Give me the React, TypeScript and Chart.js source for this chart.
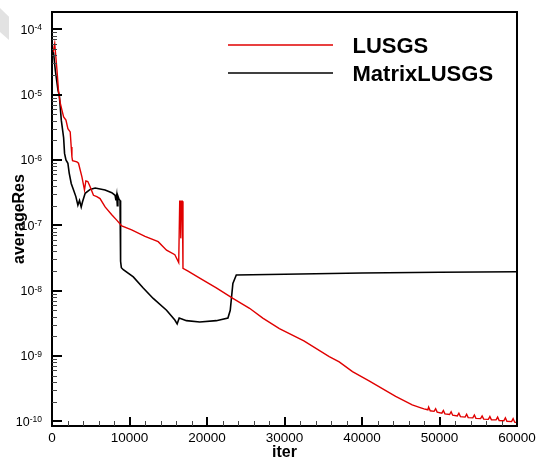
import React, { useEffect, useRef } from 'react';
import { Chart, registerables } from 'chart.js';

Chart.register(...registerables);

// ---------- data ----------
const lusgsIter = [
  150, 350, 640, 850, 1070, 1290, 1500, 1800, 2050, 2350, 2480, 2570, 2650, 3210, 3420, 3860,
  4190, 4370, 4620, 4920, 5350, 5780, 6200, 6850, 7710, 8350, 9000, 10280, 12000, 13700, 14780,
  15850, 16350, 16480, 16560, 16620, 16700, 16820, 16900, 17500, 19060, 21200, 23340, 25490,
  27200, 29340, 32500, 35770, 37060, 38770, 40910, 44340, 46480, 47500, 48000,
  48500, 48600, 48800, 49300, 49500, 49700, 50300, 50500, 50700, 51300, 51500, 51700,
  52300, 52500, 52700, 53300, 53500, 53700, 54300, 54500, 54700, 55300, 55500, 55700,
  56300, 56500, 56700, 57300, 57500, 57700, 58300, 58500, 58700, 59300, 59500, 59700, 60000,
];
const lusgsRes = [
  4.47e-5, 6.03e-5, 2.4e-5, 1.1e-5, 7.41e-6, 5.75e-6, 4.57e-6, 4.07e-6, 3.02e-6, 2.69e-6, 1.58e-6,
  1.12e-6, 9.77e-7, 9.33e-7, 8.91e-7, 5.5e-7, 3.47e-7, 4.79e-7, 4.68e-7, 3.89e-7, 2.88e-7, 2.75e-7,
  2.57e-7, 1.91e-7, 1.45e-7, 1.2e-7, 9.77e-8, 8.51e-8, 6.76e-8, 5.62e-8, 4.17e-8, 3.55e-8, 2.69e-8,
  2.34e-7, 2.34e-7, 6.31e-8, 2.34e-7, 2.34e-7, 2.19e-8, 2.0e-8, 1.55e-8, 1.1e-8, 7.59e-9, 5.37e-9,
  3.8e-9, 2.63e-9, 1.7e-9, 9.77e-10, 8.13e-10, 5.75e-10, 4.17e-10, 2.4e-10, 1.78e-10, 1.62e-10, 1.55e-10,
  1.5e-10, 1.65e-10, 1.45e-10, 1.42e-10, 1.56e-10, 1.38e-10, 1.33e-10, 1.46e-10, 1.3e-10,
  1.27e-10, 1.4e-10, 1.24e-10, 1.21e-10, 1.33e-10, 1.18e-10, 1.16e-10, 1.28e-10, 1.14e-10,
  1.13e-10, 1.25e-10, 1.11e-10, 1.1e-10, 1.21e-10, 1.08e-10, 1.07e-10, 1.18e-10, 1.05e-10,
  1.05e-10, 1.16e-10, 1.03e-10, 1.02e-10, 1.13e-10, 1.0e-10, 0.99e-10, 1.1e-10, 0.97e-10, 0.96e-10,
];

const matrixIter = [
  80, 210, 420, 770, 940, 1200, 1500, 1620, 1800, 2050, 2220, 2480, 2780, 3080, 3340, 3550, 3770,
  3940, 4280, 4920, 5570, 6850, 7710, 8140, 8250, 8350, 8430, 8500, 8650, 8780, 8850, 8950, 9200,
  10490, 11770, 13060, 14780, 15850, 16150, 16410, 17350, 19060, 21200, 22700, 23000, 23340,
  23780, 30000, 40000, 50000, 60000,
];
const matrixRes = [
  5.01e-5, 4.27e-5, 2.4e-5, 1.17e-5, 9.77e-6, 4.07e-6, 2.19e-6, 1.26e-6, 1.0e-6, 8.91e-7, 6.31e-7,
  4.37e-7, 3.47e-7, 2.75e-7, 2.04e-7, 2.4e-7, 1.91e-7, 2.29e-7, 3.09e-7, 3.55e-7, 3.72e-7, 3.47e-7,
  3.16e-7, 2.88e-7, 2.4e-7, 2.88e-7, 2.0e-7, 2.82e-7, 2.51e-7, 2.4e-7, 2.82e-8, 2.24e-8, 2.09e-8,
  1.62e-8, 1.1e-8, 7.59e-9, 5.01e-9, 3.55e-9, 3.09e-9, 3.8e-9, 3.47e-9, 3.31e-9, 3.47e-9, 3.8e-9,
  5.01e-9, 1.29e-8, 1.74e-8, 1.78e-8, 1.86e-8, 1.91e-8, 1.95e-8,
];

const seriesNames = ['LUSGS', 'MatrixLUSGS'];
const seriesColors = ['#e00000', '#000000'];
const xTickValues = [0, 10000, 20000, 30000, 40000, 50000, 60000];
const xTickLabels = ['0', '10000', '20000', '30000', '40000', '50000', '60000'];
const yTickExponents = [-10, -9, -8, -7, -6, -5, -4];
const yTickExpLabels = ['-10', '-9', '-8', '-7', '-6', '-5', '-4'];
const xTitle = 'iter';
const yTitle = 'averageRes';

const FONT = '"Liberation Sans", Arial, Helvetica, sans-serif';

const framePlugin = {
  id: 'tecFrame',
  afterDatasetsDraw(chart: any) {
    const { ctx, chartArea: a, scales } = chart;
    const xs = scales.x;
    const ys = scales.y;
    ctx.save();

    // frame
    ctx.strokeStyle = '#000';
    ctx.lineWidth = 2;
    ctx.strokeRect(a.left, a.top, a.right - a.left, a.bottom - a.top);

    // x minor ticks
    ctx.lineWidth = 1;
    ctx.strokeStyle = '#444';
    for (let v = 2000; v < 60000; v += 2000) {
      if (v % 10000 === 0) continue;
      const px = Math.round(xs.getPixelForValue(v)) + 0.5;
      ctx.beginPath();
      ctx.moveTo(px, a.bottom);
      ctx.lineTo(px, a.bottom - 5);
      ctx.stroke();
    }
    // y minor ticks
    for (let e = -10; e < -3; e++) {
      for (let m = 2; m <= 9; m++) {
        const v = m * Math.pow(10, e);
        if (v > ys.max) continue;
        const py = Math.round(ys.getPixelForValue(v)) + 0.5;
        ctx.beginPath();
        ctx.moveTo(a.left, py);
        ctx.lineTo(a.left + 5, py);
        ctx.stroke();
      }
    }
    // major ticks
    ctx.lineWidth = 2;
    ctx.strokeStyle = '#000';
    xTickValues.forEach((v) => {
      const px = Math.round(xs.getPixelForValue(v));
      ctx.beginPath();
      ctx.moveTo(px, a.bottom);
      ctx.lineTo(px, a.bottom - 9);
      ctx.stroke();
    });
    yTickExponents.forEach((e) => {
      const py = Math.round(ys.getPixelForValue(Math.pow(10, e)));
      ctx.beginPath();
      ctx.moveTo(a.left, py);
      ctx.lineTo(a.left + 10, py);
      ctx.stroke();
    });

    // x tick labels
    ctx.fillStyle = '#000';
    ctx.font = `13.5px ${FONT}`;
    ctx.textAlign = 'center';
    ctx.textBaseline = 'alphabetic';
    xTickValues.forEach((v, i) => {
      ctx.fillText(xTickLabels[i], xs.getPixelForValue(v), a.bottom + 15.5);
    });

    // y tick labels 10^e
    const right = a.left - 10;
    yTickExponents.forEach((e, i) => {
      const py = ys.getPixelForValue(Math.pow(10, e));
      ctx.font = `8.5px ${FONT}`;
      const supW = ctx.measureText(yTickExpLabels[i]).width;
      ctx.textAlign = 'left';
      ctx.fillText(yTickExpLabels[i], right - supW, py + 1);
      ctx.font = `12.5px ${FONT}`;
      ctx.textAlign = 'right';
      ctx.fillText('10', right - supW, py + 4.5);
    });

    // axis titles
    ctx.font = `bold 16px ${FONT}`;
    ctx.textAlign = 'center';
    ctx.fillText(xTitle, (a.left + a.right) / 2, 456.5);
    ctx.save();
    ctx.translate(24, (a.top + a.bottom) / 2);
    ctx.rotate(-Math.PI / 2);
    ctx.fillText(yTitle, 0, 0);
    ctx.restore();

    // legend
    const legendRows = [45, 73];
    chart.data.datasets.forEach((ds: any, i: number) => {
      const y = legendRows[i];
      ctx.strokeStyle = ds.borderColor;
      ctx.lineWidth = 1.5;
      ctx.beginPath();
      ctx.moveTo(228, y);
      ctx.lineTo(333, y);
      ctx.stroke();
      ctx.fillStyle = '#000';
      ctx.font = `bold 22px ${FONT}`;
      ctx.textAlign = 'left';
      ctx.fillText(ds.label, 352.5, y + 7.8);
    });

    ctx.restore();
  },
};

export default function App() {
  const ref = useRef<HTMLCanvasElement | null>(null);

  useEffect(() => {
    if (!ref.current) return;
    const chart = new Chart(ref.current, {
      type: 'line',
      data: {
        datasets: [
          {
            label: seriesNames[0],
            data: lusgsIter.map((x, i) => ({ x, y: lusgsRes[i] })),
            borderColor: seriesColors[0],
            borderWidth: 1.4,
            pointRadius: 0,
            tension: 0,
            fill: false,
          },
          {
            label: seriesNames[1],
            data: matrixIter.map((x, i) => ({ x, y: matrixRes[i] })),
            borderColor: seriesColors[1],
            borderWidth: 1.6,
            pointRadius: 0,
            tension: 0,
            fill: false,
          },
        ],
      },
      options: {
        animation: false,
        responsive: false,
        devicePixelRatio: 1,
        layout: { padding: { top: 12, right: 22, left: 0, bottom: 0 } },
        plugins: { legend: { display: false }, tooltip: { enabled: false } },
        scales: {
          x: {
            type: 'linear',
            min: 0,
            max: 60000,
            grid: { display: false },
            border: { display: false },
            ticks: { display: false },
            afterFit: (s: any) => {
              s.height = 34;
            },
          },
          y: {
            type: 'logarithmic',
            min: Math.pow(10, -10.072),
            max: Math.pow(10, -3.735),
            grid: { display: false },
            border: { display: false },
            ticks: { display: false },
            afterFit: (s: any) => {
              s.width = 52;
            },
          },
        },
      },
      plugins: [framePlugin],
    });
    return () => chart.destroy();
  }, []);

  return (
    <div style={{ position: 'fixed', left: 0, top: 0, width: 539, height: 460, background: '#fff' }}>
      <div
        style={{
          position: 'absolute',
          left: 0,
          top: 0,
          width: 9,
          height: 42,
          background: '#e2e2e2',
          clipPath: 'polygon(0 19%, 100% 40%, 100% 95%, 0 76%)',
        }}
      />
      <canvas ref={ref} width={539} height={460} style={{ position: 'absolute', left: 0, top: 0 }} />
    </div>
  );
}
